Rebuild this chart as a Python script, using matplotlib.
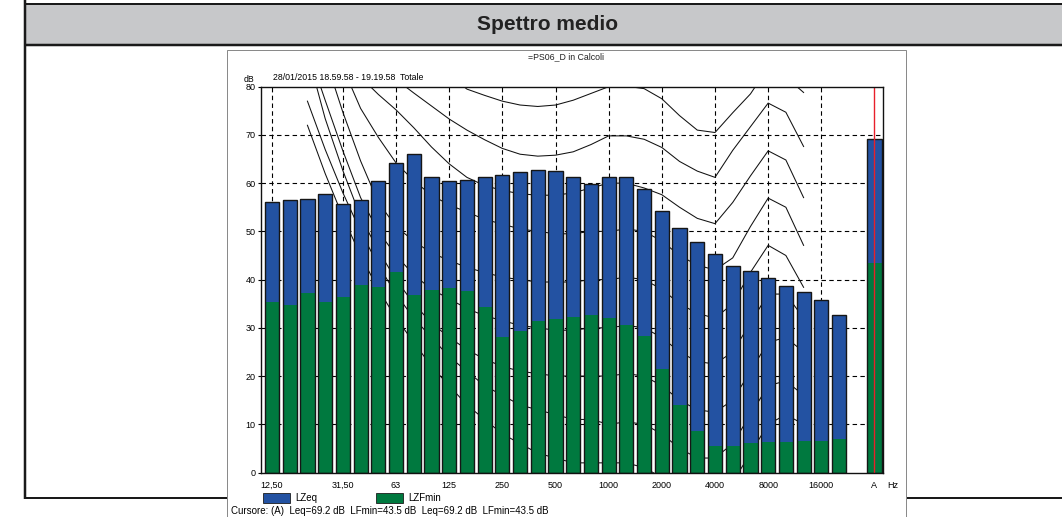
import matplotlib
matplotlib.use('Agg')
import matplotlib.pyplot as plt
from matplotlib.patches import Rectangle
import numpy as np

plt.rcParams['font.family'] = ['Liberation Sans', 'DejaVu Sans']

# ---------------- data ----------------
bands = ['12.5', '16', '20', '25', '31.5', '40', '50', '63', '80', '100', '125',
         '160', '200', '250', '315', '400', '500', '630', '800', '1000', '1250',
         '1600', '2000', '2500', '3150', '4000', '5000', '6300', '8000', '10000',
         '12500', '16000', '20000']
lzeq = [56.0, 56.5, 56.7, 57.8, 55.6, 56.5, 60.5, 64.1, 66.1, 61.2, 60.5,
        60.7, 61.2, 61.7, 62.3, 62.8, 62.6, 61.2, 59.9, 61.2, 61.2,
        58.8, 54.3, 50.6, 47.9, 45.3, 42.8, 41.8, 40.3, 38.7,
        37.5, 35.7, 32.7]
lzfmin = [35.4, 34.8, 37.2, 35.3, 36.3, 38.8, 38.4, 41.5, 36.9, 37.9, 38.3,
          37.7, 34.3, 28.1, 29.4, 31.4, 31.8, 32.3, 32.6, 32.1, 30.5,
          28.4, 21.4, 14.0, 8.7, 5.5, 5.5, 6.1, 6.3, 6.3,
          6.5, 6.5, 6.9]
total_label = 'A'
total_lzeq = 69.2
total_lzfmin = 43.5

tick_bands = ['12.5', '31.5', '63', '125', '250', '500', '1000', '2000',
              '4000', '8000', '16000']
tick_labels = ['12,50', '31,50', '63', '125', '250', '500', '1000', '2000',
               '4000', '8000', '16000']

# equal-loudness contours, 20 Hz .. 12.5 kHz (dB)
contour_bands = bands[2:31]
phon_0 = [72, 62, 53, 45, 38, 32, 27, 22, 18, 14, 11, 8, 6, 4, 3, 2, 2, 2, 2,
          1, -1, -3, -5, -5, -2, 4, 10, 12, 10]
phon_10 = [77, 67, 58, 50, 43, 37, 32, 28, 24, 21, 18, 16, 14, 13, 12, 11, 11,
           10, 10.5, 10, 8, 5, 3, 3, 6, 12, 18, 19, 16]
phon_20 = [87, 73.4, 62.6, 53, 46, 40, 35, 31, 28, 25.5, 23.5, 22, 21, 20.5,
           20, 20, 20, 20, 20.5, 20, 18, 15, 13, 12.5, 15, 21, 27, 28, 25]
phon_30 = [88, 77.2, 66.7, 57, 50, 45, 41, 38, 36, 34, 32.5, 31.5, 30.5, 30,
           29.5, 29.5, 30, 30, 30.5, 30, 28, 25, 23, 22.5, 25, 31, 37, 37, 32]
phon_40 = [97, 86, 74.7, 64.6, 56, 51, 48, 45.5, 44, 42.5, 41.5, 40.5, 40,
           39.5, 39.5, 39.5, 40, 40, 40.5, 40, 38, 35, 33, 32, 35, 41.5, 47.1,
           45, 38.4]
phon_50 = [101, 93, 84, 75.5, 69.5, 64.2, 60.5, 57.5, 55.5, 54, 52.5, 51.5,
           50.5, 50, 49.5, 49.5, 50, 50, 50.5, 50, 48, 45, 43, 42, 44.5, 51,
           56.9, 55, 47.1]
phon_60 = [103, 95, 88, 82, 78.4, 75.2, 71.5, 67.5, 64, 61.2, 59.5, 58.5,
           57.8, 57.5, 57.5, 58, 59, 60, 60, 59, 57.6, 55, 52.7, 51.6, 56, 61.5,
           66.7, 64.8, 57]
phon_70 = [106, 99, 93, 88, 85, 81.5, 78.7, 76, 73.3, 71, 69, 67.2, 66, 65.6,
           65.8, 66.5, 68, 69.8, 69.8, 69.1, 67.4, 64.5, 62.5, 61.2, 66.8, 71.7,
           76.6, 74.7, 67.6]
phon_80 = [110, 104, 99, 95, 92, 90, 88, 86, 82.5, 79.5, 78.2, 77, 76.2, 75.9,
           76.2, 77.2, 78.6, 80, 80.1, 79.6, 77.5, 74, 71, 70.5, 74.6, 78.5,
           84, 82, 78.8]
phon_90 = [114, 108, 104, 101, 99, 97, 95, 93, 91.5, 90, 89, 88, 87.5, 87, 87,
           87.5, 88.5, 90, 90, 89.5, 87.5, 84, 80.4, 80.1, 81.5, 86, 93, 91, 88]
contours = [phon_0, phon_10, phon_20, phon_30, phon_40, phon_50, phon_60,
            phon_70, phon_80, phon_90]

header_title = 'Spettro medio'
chart_title = '=PS06_D in Calcoli'
period_text = '28/01/2015 18.59.58 - 19.19.58  Totale'
series_names = ['LZeq', 'LZFmin']
unit_y = 'dB'
unit_x = 'Hz'

# ---------------- style ----------------
BLUE = '#2352a2'
GREEN = '#00793f'
EDGE = '#161616'
W, H = 1062, 517
PX = 0.72  # one pixel in points

fig = plt.figure(figsize=(W / 100, H / 100), dpi=100)

# page / table decoration layer (pixel coordinates)
bg = fig.add_axes([0, 0, 1, 1], zorder=0)
bg.set_xlim(0, W)
bg.set_ylim(H, 0)
bg.axis('off')
bg.add_patch(Rectangle((25, 4.5), W - 25, 40, facecolor='#c7c8ca',
                       edgecolor='none', zorder=1))
bg.plot([25, W], [4.3, 4.3], color='#1a1a1a', lw=2 * PX, solid_capstyle='butt', zorder=2)
bg.plot([25, W], [44.5, 44.5], color='#1a1a1a', lw=2.5 * PX, solid_capstyle='butt', zorder=2)
bg.plot([25, 25], [0, 498.5], color='#1a1a1a', lw=2.5 * PX, solid_capstyle='butt', zorder=2)
bg.plot([25, W], [498, 498], color='#1a1a1a', lw=2 * PX, solid_capstyle='butt', zorder=2)
bg.add_patch(Rectangle((226.5, 49.5), 679, 480, facecolor='white',
                       edgecolor='#8a8a8a', lw=1 * PX, zorder=3))
bg.text(548, 24, header_title, ha='center', va='center', fontsize=15,
        fontweight='bold', color='#222222', zorder=5)
bg.text(566, 57, chart_title, ha='center', va='center', fontsize=6.3,
        color='#222222', zorder=5)
bg.text(249.5, 79, unit_y, ha='center', va='center', fontsize=6.3, zorder=5)
bg.text(273, 78, period_text, ha='left', va='center', fontsize=6.3, zorder=5)
bg.text(893, 485.5, unit_x, ha='center', va='center', fontsize=6.5, zorder=5)

# legend
bg.add_patch(Rectangle((262.7, 492.7), 27.3, 10, facecolor=BLUE,
                       edgecolor=EDGE, lw=0.8 * PX, zorder=4))
bg.text(295, 498, series_names[0], ha='left', va='center', fontsize=7, zorder=5)
bg.add_patch(Rectangle((376, 492.7), 27.3, 10, facecolor=GREEN,
                       edgecolor=EDGE, lw=0.8 * PX, zorder=4))
bg.text(408, 498, series_names[1], ha='left', va='center', fontsize=7, zorder=5)
cursor_text = (f'Cursore: (A)  Leq={total_lzeq:.1f} dB  LFmin={total_lzfmin:.1f} dB'
               f'  Leq={total_lzeq:.1f} dB  LFmin={total_lzfmin:.1f} dB')
bg.text(231, 511, cursor_text, ha='left', va='center', fontsize=7, zorder=5)

# ---------------- main chart ----------------
left_px, right_px, top_px, bottom_px = 261, 882.7, 86.7, 472.5
ax = fig.add_axes([left_px / W, (H - bottom_px) / H, (right_px - left_px) / W,
                   (bottom_px - top_px) / H], zorder=1)

x = np.arange(len(bands))
xa = len(bands) + 1
bw = 0.8

xs = list(x) + [xa]
eq_all = lzeq + [total_lzeq]
mn_all = lzfmin + [total_lzfmin]

ax.bar(xs, mn_all, width=bw, color=GREEN, edgecolor='none', zorder=3)
ax.bar(xs, np.array(eq_all) - np.array(mn_all), bottom=mn_all, width=bw,
       color=BLUE, edgecolor='none', zorder=3)
ax.bar(xs, eq_all, width=bw, fill=False, edgecolor=EDGE, lw=1.0, zorder=4)

# contours (behind the bars)
xc = [bands.index(b) for b in contour_bands]
for c in contours:
    ax.plot(xc, c, color='#111111', lw=0.75, zorder=2)

# dashed grid
tick_pos = [bands.index(b) for b in tick_bands]
dash = (0, (4, 3))
for t in tick_pos:
    ax.axvline(t, color='black', lw=0.8, ls=dash, zorder=1)
for yv in range(10, 80, 10):
    ax.axhline(yv, color='black', lw=0.8, ls=dash, zorder=1)

ax.axvline(xa, color='#e8202a', lw=1.0, zorder=6)

ax.set_xlim((left_px - 272) / 17.72, (right_px - 272) / 17.72)
ax.set_ylim(0, 80)
ax.set_xticks(tick_pos + [xa])
ax.set_xticklabels(tick_labels + [total_label])
ax.set_yticks(range(0, 81, 10))
ax.tick_params(axis='x', length=0, pad=6, labelsize=6.5)
ax.tick_params(axis='y', length=2, pad=2, labelsize=6.5)
for s in ax.spines.values():
    s.set_linewidth(1.0)
    s.set_color('#111111')
    s.set_zorder(7)

fig.savefig('out.png', dpi=100)
